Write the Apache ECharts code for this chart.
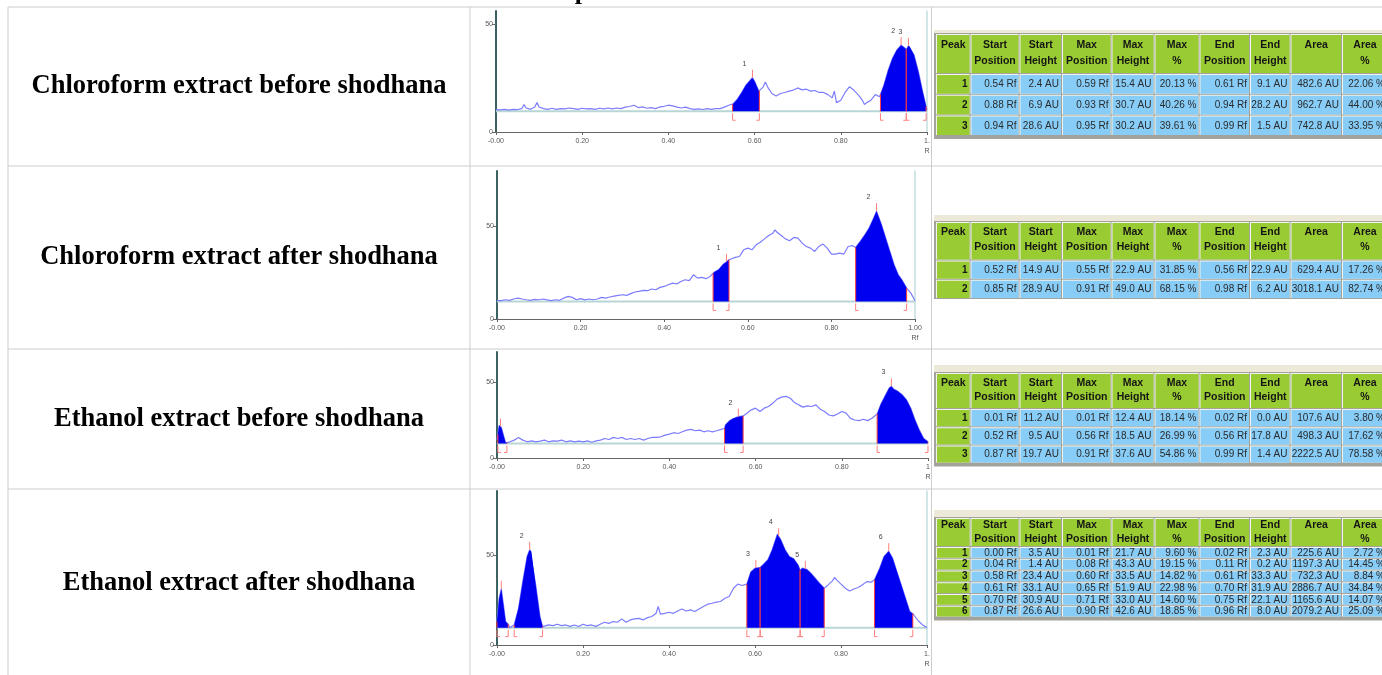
<!DOCTYPE html>
<html lang="en">
<head>
<meta charset="UTF-8">
<title>HPTLC densitograms</title>
<script src="https://cdn.jsdelivr.net/npm/echarts@6.0.0/dist/echarts.min.js"></script>
<style>
  html, body { margin: 0; padding: 0; background: #fff; }
  #main { width: 1382px; height: 675px; }
</style>
</head>
<body>
<div id="main"></div>
<script>
// ---- data ----
var rowTitles = [
  'Chloroform extract before shodhana',
  'Chloroform extract after shodhana',
  'Ethanol extract before shodhana',
  'Ethanol extract after shodhana'
];

// densitogram traces [Rf, AU]
var curve1 = [[0,10.4],[0.01,10.2],[0.02,10.5],[0.03,10.1],[0.04,10.5],[0.05,10.4],[0.06,10.8],[0.065,12.7],[0.07,11.1],[0.08,10.5],[0.09,11.6],[0.095,13.6],[0.10,11.6],[0.11,10.8],[0.12,10.5],[0.13,11.0],[0.14,10.5],[0.15,10.8],[0.16,10.7],[0.17,11.1],[0.18,10.8],[0.19,10.5],[0.20,11.0],[0.21,10.7],[0.22,10.8],[0.23,10.5],[0.24,11.0],[0.25,10.7],[0.26,11.1],[0.27,10.7],[0.28,11.1],[0.29,10.8],[0.30,11.5],[0.31,11.8],[0.32,12.4],[0.33,11.3],[0.34,11.6],[0.35,11.0],[0.36,11.3],[0.37,10.8],[0.38,11.6],[0.39,11.9],[0.40,12.4],[0.41,12.1],[0.42,11.5],[0.43,11.1],[0.44,11.5],[0.45,10.8],[0.46,10.5],[0.47,10.7],[0.48,10.4],[0.49,10.8],[0.50,10.5],[0.51,10.8],[0.52,10.8],[0.53,11.5],[0.54,12.4],[0.55,13.0],[0.56,15.2],[0.57,18.3],[0.58,21.7],[0.59,24.0],[0.595,25.1],[0.60,23.5],[0.61,18.9],[0.62,20.9],[0.625,23.2],[0.63,20.9],[0.64,17.8],[0.65,16.7],[0.66,17.8],[0.67,18.3],[0.68,18.9],[0.69,19.4],[0.70,20.4],[0.71,19.5],[0.72,19.8],[0.73,18.9],[0.74,19.2],[0.75,18.3],[0.76,18.3],[0.77,17.3],[0.78,15.8],[0.785,18.9],[0.79,13.6],[0.80,14.7],[0.81,18.3],[0.82,20.9],[0.83,19.4],[0.84,17.3],[0.85,14.7],[0.855,12.7],[0.86,13.6],[0.87,14.7],[0.88,17.3],[0.89,16.3],[0.90,21.7],[0.91,28.6],[0.92,34.1],[0.93,37.9],[0.94,40.2],[0.945,39.5],[0.952,38.2],[0.957,39.9],[0.96,39.5],[0.97,35.6],[0.98,27.9],[0.99,18.6],[1.0,10.1]];
var curve2 = [[0,9.9],[0.01,9.9],[0.02,10.4],[0.03,10.1],[0.04,10.8],[0.05,11.3],[0.06,10.8],[0.07,10.4],[0.08,10.1],[0.09,10.6],[0.10,10.4],[0.11,10.8],[0.12,10.3],[0.13,9.9],[0.14,10.4],[0.15,10.1],[0.16,11.3],[0.17,12.2],[0.18,11.7],[0.19,10.4],[0.20,11.0],[0.21,10.3],[0.22,10.8],[0.23,10.4],[0.24,10.8],[0.25,11.7],[0.26,11.3],[0.27,11.9],[0.28,12.4],[0.29,12.8],[0.30,13.1],[0.31,12.8],[0.32,13.7],[0.33,14.6],[0.34,14.9],[0.35,15.5],[0.36,15.3],[0.37,16.2],[0.38,15.8],[0.39,17.1],[0.40,17.6],[0.41,18.5],[0.42,19.4],[0.43,18.9],[0.44,20.3],[0.45,21.2],[0.46,20.7],[0.47,23.9],[0.48,22.1],[0.49,22.5],[0.50,21.8],[0.51,23.0],[0.52,25.4],[0.53,26.6],[0.54,29.3],[0.55,31.1],[0.555,32.0],[0.56,32.4],[0.57,33.3],[0.58,33.8],[0.59,37.4],[0.60,38.3],[0.61,37.4],[0.62,40.1],[0.63,41.5],[0.64,43.3],[0.65,45.1],[0.66,46.4],[0.665,48.2],[0.67,46.9],[0.68,45.1],[0.69,43.3],[0.70,42.3],[0.71,44.1],[0.72,43.7],[0.73,41.0],[0.74,39.2],[0.75,38.3],[0.76,36.5],[0.77,39.2],[0.78,40.5],[0.79,38.3],[0.80,35.1],[0.81,35.1],[0.82,35.6],[0.83,35.1],[0.84,39.2],[0.85,39.7],[0.858,38.7],[0.87,42.3],[0.88,45.5],[0.89,49.1],[0.90,54.1],[0.908,58.3],[0.92,50.9],[0.93,43.7],[0.94,36.5],[0.95,29.3],[0.96,23.9],[0.97,20.7],[0.98,16.7],[0.99,14.0],[1.0,9.9]];
var curve3 = [[0,11.8],[0.005,21.5],[0.01,20.2],[0.015,15.1],[0.02,10.0],[0.03,10.7],[0.04,11.8],[0.05,13.6],[0.06,11.8],[0.07,10.7],[0.08,11.3],[0.09,10.7],[0.10,11.1],[0.11,11.8],[0.12,10.7],[0.13,11.3],[0.14,11.1],[0.15,11.8],[0.16,10.7],[0.17,11.3],[0.18,10.7],[0.19,11.1],[0.20,10.7],[0.21,11.3],[0.22,10.4],[0.23,11.3],[0.24,11.8],[0.25,12.9],[0.26,12.2],[0.27,13.6],[0.28,12.9],[0.29,13.6],[0.30,12.2],[0.31,12.9],[0.32,12.2],[0.33,12.9],[0.34,11.8],[0.35,12.9],[0.36,13.6],[0.37,13.6],[0.38,14.0],[0.39,15.1],[0.40,15.8],[0.41,16.7],[0.42,16.2],[0.43,17.3],[0.44,18.4],[0.45,18.9],[0.46,18.0],[0.47,18.4],[0.48,17.3],[0.49,18.0],[0.50,17.3],[0.51,18.0],[0.52,18.9],[0.528,19.5],[0.53,21.8],[0.54,24.7],[0.55,26.2],[0.56,27.3],[0.571,27.8],[0.58,29.6],[0.59,31.8],[0.60,32.9],[0.61,30.7],[0.62,32.9],[0.63,34.0],[0.64,36.2],[0.65,38.9],[0.66,40.2],[0.67,40.7],[0.68,39.6],[0.69,36.7],[0.70,35.1],[0.71,33.6],[0.72,34.4],[0.73,34.0],[0.74,35.1],[0.75,32.2],[0.76,30.7],[0.77,28.4],[0.78,27.8],[0.79,29.1],[0.80,30.7],[0.81,29.6],[0.82,26.2],[0.83,25.1],[0.84,24.7],[0.85,25.6],[0.86,24.7],[0.87,26.2],[0.882,29.1],[0.89,35.1],[0.90,40.7],[0.91,46.2],[0.915,47.3],[0.92,45.6],[0.93,44.0],[0.94,41.8],[0.95,38.4],[0.96,32.9],[0.97,25.1],[0.98,18.4],[0.99,12.9],[1.0,10.7]];
var curve4 = [[0,13.1],[0.005,26.1],[0.01,31.3],[0.015,22.4],[0.02,13.1],[0.026,11.6],[0.03,9.7],[0.04,11.2],[0.05,20.5],[0.06,35.4],[0.07,49.4],[0.076,53.2],[0.08,52.2],[0.09,33.6],[0.10,15.9],[0.106,10.3],[0.11,10.3],[0.12,11.2],[0.13,10.8],[0.14,11.6],[0.15,10.8],[0.16,11.2],[0.17,10.4],[0.18,11.2],[0.19,10.3],[0.20,11.6],[0.21,10.8],[0.22,11.2],[0.23,10.4],[0.24,11.6],[0.25,12.7],[0.26,12.1],[0.27,13.1],[0.28,12.7],[0.29,14.6],[0.30,12.7],[0.31,14.0],[0.32,14.6],[0.33,14.9],[0.34,14.0],[0.35,15.3],[0.36,15.9],[0.37,17.7],[0.375,21.5],[0.38,17.2],[0.39,17.7],[0.40,18.3],[0.41,17.7],[0.42,19.0],[0.43,20.1],[0.44,19.0],[0.45,19.6],[0.46,18.7],[0.47,20.1],[0.48,21.5],[0.49,22.8],[0.50,23.3],[0.51,23.9],[0.52,24.3],[0.53,26.1],[0.54,27.1],[0.55,31.7],[0.56,34.0],[0.57,33.2],[0.581,34.0],[0.59,40.7],[0.60,42.9],[0.612,43.3],[0.62,45.1],[0.63,47.6],[0.64,53.2],[0.652,61.9],[0.66,58.8],[0.67,53.2],[0.68,49.4],[0.69,48.1],[0.70,44.8],[0.705,41.8],[0.71,42.9],[0.72,42.3],[0.73,40.1],[0.74,37.3],[0.75,34.5],[0.761,31.7],[0.77,33.6],[0.78,35.8],[0.785,37.7],[0.79,36.4],[0.80,34.0],[0.81,31.7],[0.82,30.2],[0.83,31.3],[0.84,32.1],[0.85,33.6],[0.86,35.4],[0.87,35.1],[0.878,36.4],[0.89,42.9],[0.90,49.4],[0.911,52.4],[0.92,48.5],[0.93,41.0],[0.94,33.6],[0.95,26.1],[0.96,18.7],[0.967,17.5],[0.98,13.4],[0.99,11.2],[1.0,9.7]];

// integration baselines (AU)
var baselines = [9.6, 9.5, 9.6, 9.7];

// peaks as drawn: [label, start Rf, max Rf, end Rf]
var peaks1 = [['1', 0.549, 0.595, 0.611], ['2', 0.892, 0.940, 0.952], ['3', 0.952, 0.957, 0.998]];
var peaks2 = [['1', 0.517, 0.549, 0.555], ['2', 0.858, 0.908, 0.980]];
var peaks3 = [['', 0.002, 0.008, 0.023], ['2', 0.528, 0.560, 0.571], ['3', 0.882, 0.915, 1.0]];
var peaks4 = [['', 0.0, 0.01, 0.026], ['2', 0.040, 0.076, 0.106], ['3', 0.581, 0.602, 0.612],
              ['4', 0.612, 0.655, 0.705], ['5', 0.705, 0.717, 0.761], ['6', 0.878, 0.911, 0.967]];

var yMaxes = [56, 80, 70, 86];
var xTicks = [0, 0.2, 0.4, 0.6, 0.8, 1];
var yTicks = [0, 50];
var lastTickLabels = ['1.\nR', '1.00\nRf', '1\nR', '1.\nR'];

// peak tables
var tableHead = [['Peak'], ['Start', 'Position'], ['Start', 'Height'], ['Max', 'Position'], ['Max', 'Height'],
                 ['Max', '%'], ['End', 'Position'], ['End', 'Height'], ['Area'], ['Area', '%']];
var table1 = [
  ['1', '0.54 Rf', '2.4 AU', '0.59 Rf', '15.4 AU', '20.13 %', '0.61 Rf', '9.1 AU', '482.6 AU', '22.06 %'],
  ['2', '0.88 Rf', '6.9 AU', '0.93 Rf', '30.7 AU', '40.26 %', '0.94 Rf', '28.2 AU', '962.7 AU', '44.00 %'],
  ['3', '0.94 Rf', '28.6 AU', '0.95 Rf', '30.2 AU', '39.61 %', '0.99 Rf', '1.5 AU', '742.8 AU', '33.95 %']
];
var table2 = [
  ['1', '0.52 Rf', '14.9 AU', '0.55 Rf', '22.9 AU', '31.85 %', '0.56 Rf', '22.9 AU', '629.4 AU', '17.26 %'],
  ['2', '0.85 Rf', '28.9 AU', '0.91 Rf', '49.0 AU', '68.15 %', '0.98 Rf', '6.2 AU', '3018.1 AU', '82.74 %']
];
var table3 = [
  ['1', '0.01 Rf', '11.2 AU', '0.01 Rf', '12.4 AU', '18.14 %', '0.02 Rf', '0.0 AU', '107.6 AU', '3.80 %'],
  ['2', '0.52 Rf', '9.5 AU', '0.56 Rf', '18.5 AU', '26.99 %', '0.56 Rf', '17.8 AU', '498.3 AU', '17.62 %'],
  ['3', '0.87 Rf', '19.7 AU', '0.91 Rf', '37.6 AU', '54.86 %', '0.99 Rf', '1.4 AU', '2222.5 AU', '78.58 %']
];
var table4 = [
  ['1', '0.00 Rf', '3.5 AU', '0.01 Rf', '21.7 AU', '9.60 %', '0.02 Rf', '2.3 AU', '225.6 AU', '2.72 %'],
  ['2', '0.04 Rf', '1.4 AU', '0.08 Rf', '43.3 AU', '19.15 %', '0.11 Rf', '0.2 AU', '1197.3 AU', '14.45 %'],
  ['3', '0.58 Rf', '23.4 AU', '0.60 Rf', '33.5 AU', '14.82 %', '0.61 Rf', '33.3 AU', '732.3 AU', '8.84 %'],
  ['4', '0.61 Rf', '33.1 AU', '0.65 Rf', '51.9 AU', '22.98 %', '0.70 Rf', '31.9 AU', '2886.7 AU', '34.84 %'],
  ['5', '0.70 Rf', '30.9 AU', '0.71 Rf', '33.0 AU', '14.60 %', '0.75 Rf', '22.1 AU', '1165.6 AU', '14.07 %'],
  ['6', '0.87 Rf', '26.6 AU', '0.90 Rf', '42.6 AU', '18.85 %', '0.96 Rf', '8.0 AU', '2079.2 AU', '25.09 %']
];

// ---- layout ----
var plotBoxes = [
  { left: 496, right: 455, top: 11, bottom: 543 },
  { left: 497, right: 467, top: 171, bottom: 356 },
  { left: 497, right: 454, top: 352, bottom: 217 },
  { left: 497, right: 455, top: 491, bottom: 30 }
];
var rightFrame = [true, true, false, true];
var rowCenters = [86.5, 257.5, 419, 583];
var hLines = [7, 166, 349, 489];
var vLines = [8, 470, 931.5];
var colX = [936, 970.5, 1019.5, 1062, 1111.5, 1154.5, 1199.5, 1250, 1290.5, 1342, 1388];
var tableBoxes = [
  { strip: 30, top: 34, headH: 40, rowH: 20.7, foot: 3, lines: [11, 27] },
  { strip: 215, top: 222, headH: 38.5, rowH: 19.3, foot: 0, lines: [10.5, 25.5] },
  { strip: 365, top: 373, headH: 36, rowH: 18.2, foot: 3, lines: [10.5, 24.5] },
  { strip: 510, top: 518, headH: 29, rowH: 11.75, foot: 3, lines: [7, 21] }
];

var curves = [curve1, curve2, curve3, curve4];
var peaksAll = [peaks1, peaks2, peaks3, peaks4];
var tables = [table1, table2, table3, table4];

var SANS = '"Liberation Sans", Arial, sans-serif';
var SERIF = '"Liberation Serif", "Times New Roman", serif';

function txt(x, y, text, font, fill, align, valign) {
  return {
    type: 'text', x: x, y: y, silent: true,
    style: { text: text, font: font, fill: fill, align: align, verticalAlign: valign,
             textAlign: align, textVerticalAlign: valign }
  };
}
function rect(x, y, w, h, fill) {
  return { type: 'rect', silent: true, shape: { x: x, y: y, width: w, height: h }, style: { fill: fill } };
}

function peakRenderer(curve, base, peaks) {
  function yAt(x) {
    for (var k = 1; k < curve.length; k++) {
      if (curve[k][0] >= x) {
        var a = curve[k - 1], b = curve[k];
        var t = (x - a[0]) / (b[0] - a[0]);
        return a[1] + t * (b[1] - a[1]);
      }
    }
    return curve[curve.length - 1][1];
  }
  return function (params, api) {
    var pk = peaks[params.dataIndex];
    var s = pk[1], m = pk[2], e = pk[3];
    var b0 = api.coord([s, base]), b1 = api.coord([e, base]);
    var c0 = api.coord([s, yAt(s)]), c1 = api.coord([e, yAt(e)]);
    var pts = [b0, c0];
    curve.forEach(function (c) { if (c[0] > s && c[0] < e) pts.push(api.coord(c)); });
    pts.push(c1, b1);
    var top = api.coord([m, yAt(m)]);
    var red = '#ff3a3a', pale = '#ff7d7d';
    var kids = [
      { type: 'polygon', shape: { points: pts }, style: { fill: '#0000f0' } },
      { type: 'line', shape: { x1: b0[0], y1: b0[1], x2: c0[0], y2: c0[1] }, style: { stroke: red, lineWidth: 1 } },
      { type: 'line', shape: { x1: b1[0], y1: b1[1], x2: c1[0], y2: c1[1] }, style: { stroke: red, lineWidth: 1 } },
      { type: 'polyline', shape: { points: [[b0[0], b0[1] + 2], [b0[0], b0[1] + 9], [b0[0] + 3, b0[1] + 9]] },
        style: { stroke: pale, fill: null, lineWidth: 1 } },
      { type: 'polyline', shape: { points: [[b1[0], b1[1] + 2], [b1[0], b1[1] + 9], [b1[0] - 3, b1[1] + 9]] },
        style: { stroke: pale, fill: null, lineWidth: 1 } },
      { type: 'line', shape: { x1: top[0], y1: top[1], x2: top[0], y2: top[1] - 8 }, style: { stroke: pale, lineWidth: 1 } }
    ];
    if (pk[0]) {
      kids.push({ type: 'text', x: top[0] - 8, y: top[1] - 14,
        style: { text: pk[0], font: '7px ' + SANS, fill: '#444', align: 'center', verticalAlign: 'middle',
                 textAlign: 'center', textVerticalAlign: 'middle' } });
    }
    return { type: 'group', children: kids };
  };
}

var option = { animation: false, grid: [], xAxis: [], yAxis: [], series: [], graphic: { elements: [] } };
var els = option.graphic.elements;

// outer table rules
hLines.forEach(function (y) {
  els.push({ type: 'line', silent: true, shape: { x1: 8, y1: y, x2: 1382, y2: y }, style: { stroke: '#cccccc', lineWidth: 1 } });
});
vLines.forEach(function (x) {
  els.push({ type: 'line', silent: true, shape: { x1: x, y1: 7, x2: x, y2: 675 }, style: { stroke: '#cccccc', lineWidth: 1 } });
});
// clipped caption above the table
els.push(txt(582, 5, 'p', 'bold 26px ' + SERIF, '#000', 'center', 'bottom'));

rowTitles.forEach(function (t, i) {
  els.push(txt(239, rowCenters[i], t, 'bold 26.5px ' + SERIF, '#000', 'center', 'middle'));
});

function cell(x, y, w, h, fill) {
  els.push(rect(x, y, w - 1, h - 1, '#f2f2ee'));
  els.push(rect(x + 1, y + 1, w - 2, h - 2, fill));
}

tables.forEach(function (rows, ti) {
  var box = tableBoxes[ti];
  var x0 = colX[0] - 2, x1 = colX[colX.length - 1];
  var bodyBottom = box.top + box.headH + rows.length * box.rowH;
  els.push(rect(x0, box.strip, x1 - x0, box.top - box.strip, '#ece9d8'));
  els.push(rect(x0, box.top - 1, x1 - x0, bodyBottom - box.top + 1 + box.foot, '#a3a39b'));
  for (var c = 0; c < colX.length - 1; c++) {
    var cx = colX[c], w = colX[c + 1] - cx;
    cell(cx, box.top, w, box.headH, '#99cc33');
    tableHead[c].forEach(function (line, k) {
      els.push(txt(cx + w / 2, box.top + box.lines[k], line, 'bold 10.5px ' + SANS, '#151515', 'center', 'middle'));
    });
    rows.forEach(function (r, ri) {
      var cy = box.top + box.headH + ri * box.rowH;
      cell(cx, cy, w, box.rowH, c === 0 ? '#99cc33' : '#87cdf8');
      els.push(txt(cx + w - 3, cy + box.rowH / 2, r[c], (c === 0 ? 'bold ' : '') + '10px ' + SANS,
        c === 0 ? '#151515' : '#2a2a2a', 'right', 'middle'));
    });
  }
});

// densitograms
curves.forEach(function (curve, i) {
  var base = baselines[i];
  option.grid.push(plotBoxes[i]);
  option.xAxis.push({
    gridIndex: i, type: 'value', min: 0, max: 1,
    axisLine: { show: true, lineStyle: { color: '#666', width: 1 } },
    axisTick: { show: true, customValues: xTicks, length: 3, lineStyle: { color: '#666' } },
    axisLabel: {
      customValues: xTicks, fontSize: 7, color: '#555', margin: 4, fontFamily: SANS, lineHeight: 10,
      formatter: function (v) {
        if (v === 0) return '-0.00';
        if (v === 1) return lastTickLabels[i];
        return v.toFixed(2);
      }
    },
    splitLine: { show: false }
  });
  option.yAxis.push({
    gridIndex: i, type: 'value', min: 0, max: yMaxes[i],
    axisLine: { show: true, lineStyle: { color: '#3d6262', width: 2 } },
    axisTick: { show: true, customValues: yTicks, length: 4, lineStyle: { color: '#666' } },
    axisLabel: { customValues: yTicks, fontSize: 7, color: '#555', margin: 3, fontFamily: SANS },
    splitLine: { show: false }
  });
  option.yAxis.push({
    gridIndex: i, type: 'value', min: 0, max: yMaxes[i], position: 'right',
    axisLine: { show: rightFrame[i], lineStyle: { color: '#c3dcdf', width: 1.5 } },
    axisTick: { show: false }, axisLabel: { show: false }, splitLine: { show: false }
  });
  option.series.push({
    type: 'line', xAxisIndex: i, yAxisIndex: i * 2, silent: true, symbol: 'none', z: 1,
    data: [[0, base], [1, base]],
    lineStyle: { color: '#b9d6d6', width: 2 }
  });
  option.series.push({
    type: 'line', xAxisIndex: i, yAxisIndex: i * 2, silent: true, symbol: 'none', z: 2,
    data: curve,
    lineStyle: { color: '#7c7cff', width: 1.2 }
  });
  option.series.push({
    type: 'custom', xAxisIndex: i, yAxisIndex: i * 2, coordinateSystem: 'cartesian2d', silent: true, z: 3,
    data: peaksAll[i].map(function (p) { return [p[1], p[2], p[3]]; }),
    renderItem: peakRenderer(curve, base, peaksAll[i])
  });
});

var myChart = echarts.init(document.getElementById('main'));
myChart.setOption(option);
</script>
</body>
</html>
